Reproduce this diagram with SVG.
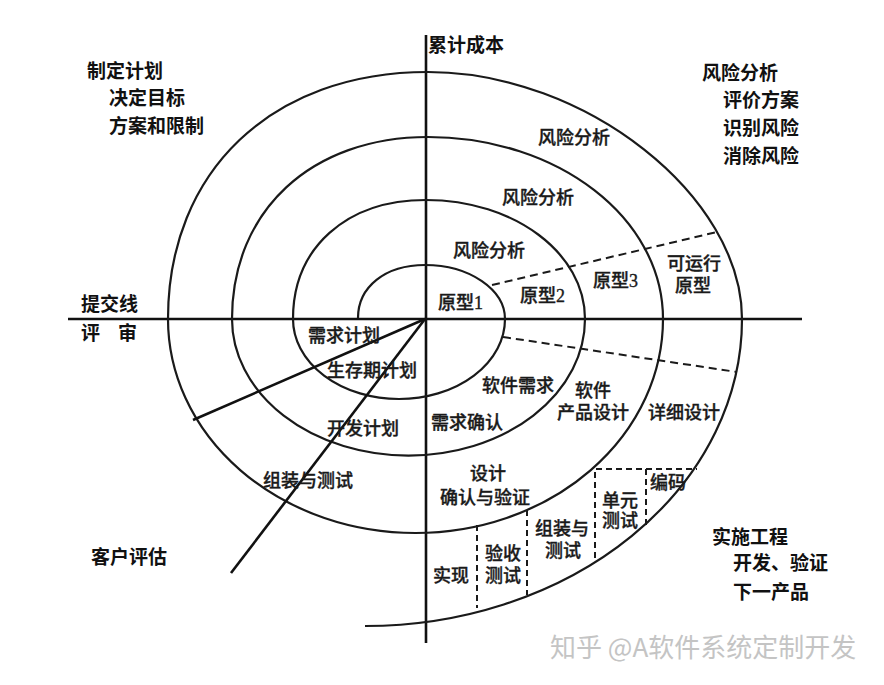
<svg xmlns="http://www.w3.org/2000/svg" width="884" height="685" viewBox="0 0 884 685">
<style>
.ax{stroke:#111;stroke-width:2.6;fill:none}
.sp{stroke:#1a1a1a;stroke-width:2.2;fill:none}
.dl{stroke:#1a1a1a;stroke-width:2;fill:none;stroke-dasharray:8 5}
.db{stroke:#1a1a1a;stroke-width:2;fill:none;stroke-dasharray:6 4}
.o{font-family:"Noto Sans CJK SC",sans-serif;font-size:19px;font-weight:bold;fill:#111}
.i{font-family:"Liberation Serif","Noto Sans CJK SC",serif;font-size:18px;font-weight:500;fill:#1a1a1a;stroke:#1a1a1a;stroke-width:0.35}
.wm{font-family:"Noto Sans CJK SC",sans-serif;font-size:26px;fill:#c4c4c4}
</style>
<rect width="884" height="685" fill="#fff"/>
<g id="connectors">
<line class="ax" x1="68" y1="319" x2="802" y2="319"/>
<line class="ax" x1="426" y1="35" x2="426" y2="643"/>
<path class="sp" d="M358,318 C358,287 385,265 425,265 C470,265 505,290 505,319
A106,80 0 0 1 293,319
C293,248 346,200 426,200 C514,200 585,253 585,319
A176.5,136.6 0 0 1 232,319
C232,210 312,137 428,137 C558,137 663,218 663,319
A247.5,214 0 0 1 168,319
C168,171 272,72 428,72 C585,72 742,196 742,319
A377,307 0 0 1 365,626"/>
<line class="ax" x1="425" y1="319" x2="193" y2="420"/>
<line class="ax" x1="425" y1="319" x2="231" y2="573"/>
<line class="dl" x1="492" y1="285" x2="717" y2="232"/>
<line class="dl" x1="503" y1="337" x2="737" y2="372"/>
<polyline class="db" points="595,558 595,469 697,469"/>
<line class="db" x1="646" y1="469" x2="646" y2="525"/>
<line class="db" x1="527" y1="510" x2="527" y2="595"/>
<line class="db" x1="477" y1="525" x2="477" y2="608"/>
</g>
<g id="quadrant-labels">
<text class="o" x="87" y="78">制定计划</text>
<text class="o" x="109" y="105">决定目标</text>
<text class="o" x="109" y="133">方案和限制</text>
<text class="o" x="81" y="311">提交线</text>
<text class="o" x="81" y="340">评<tspan x="118">审</tspan></text>
<text class="o" x="428" y="52">累计成本</text>
<text class="o" x="702" y="80">风险分析</text>
<text class="o" x="723" y="107">评价方案</text>
<text class="o" x="723" y="135">识别风险</text>
<text class="o" x="723" y="163">消除风险</text>
<text class="o" x="91" y="564">客户评估</text>
<text class="o" x="712" y="544">实施工程</text>
<text class="o" x="733" y="570">开发、验证</text>
<text class="o" x="733" y="599">下一产品</text>
</g>
<g id="risk-labels">
<text class="i" x="538" y="143.5">风险分析</text>
<text class="i" x="502" y="203.5">风险分析</text>
<text class="i" x="453" y="256.5">风险分析</text>
</g>
<g id="prototype-labels">
<text class="i" x="438" y="308.5">原型1</text>
<text class="i" x="520" y="301.5">原型2</text>
<text class="i" x="593" y="286.5">原型3</text>
<text class="i" x="667" y="269.5">可运行</text>
<text class="i" x="675" y="291.5">原型</text>
</g>
<g id="plan-labels">
<text class="i" x="308" y="341.5">需求计划</text>
<text class="i" x="327" y="376.5">生存期计划</text>
<text class="i" x="327" y="434.5">开发计划</text>
<text class="i" x="263" y="486.5">组装与测试</text>
</g>
<g id="engineering-labels">
<text class="i" x="482" y="391.5">软件需求</text>
<text class="i" x="431" y="428.5">需求确认</text>
<text class="i" x="575" y="396.5">软件</text>
<text class="i" x="557" y="418.5">产品设计</text>
<text class="i" x="648" y="418.5">详细设计</text>
<text class="i" x="470" y="479.5">设计</text>
<text class="i" x="440" y="503.5">确认与验证</text>
<text class="i" x="650" y="488.5">编码</text>
<text class="i" x="602" y="506.5">单元</text>
<text class="i" x="602" y="526.5">测试</text>
<text class="i" x="535" y="534.5">组装与</text>
<text class="i" x="545" y="556.5">测试</text>
<text class="i" x="485" y="559.5">验收</text>
<text class="i" x="485" y="581.5">测试</text>
<text class="i" x="433" y="581.5">实现</text>
</g>
<g id="watermark">
<text class="wm" x="550" y="657">知乎 @A软件系统定制开发</text>
</g>
</svg>
